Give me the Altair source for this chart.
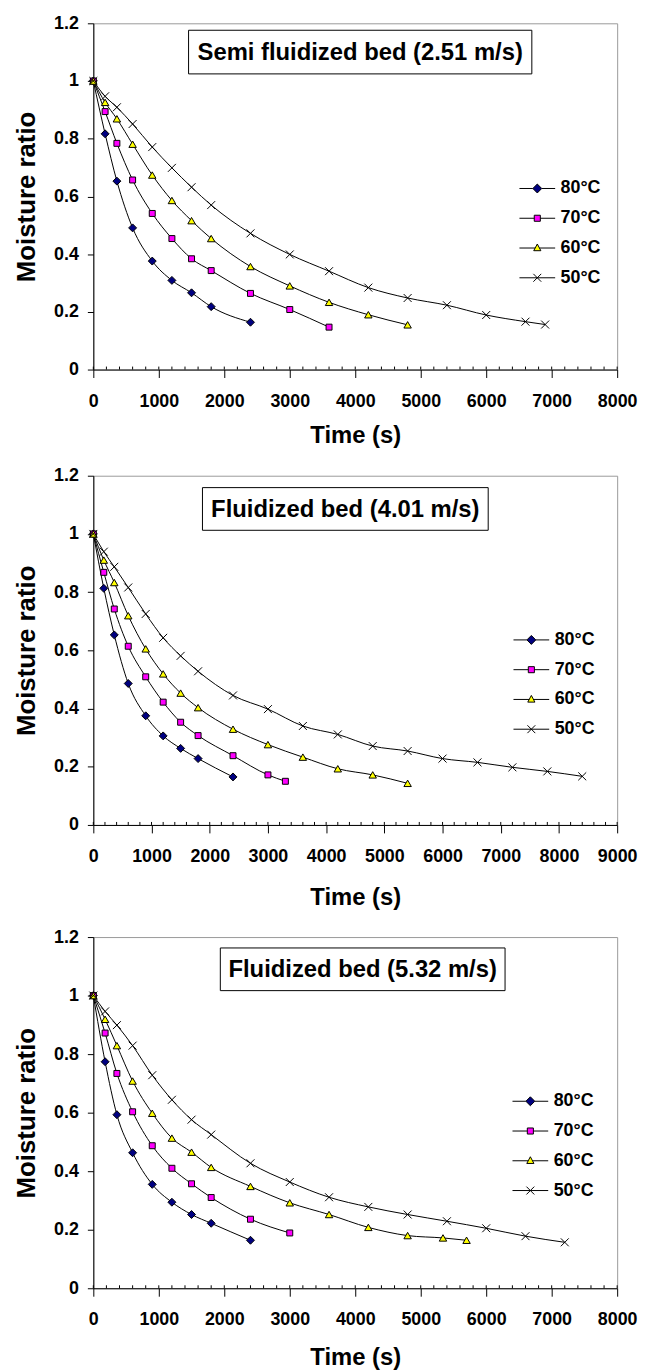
import altair as alt
import pandas as pd

# ---------------- data ----------------
TEMPS = ["80°C", "70°C", "60°C", "50°C"]
FILL_COLORS = ["#000080", "#FF00FF", "#FFFF00", "#000000"]
STROKE_COLORS = ["#000000", "#000000", "#000000", "#000000"]
Y_TICKS = [0, 0.2, 0.4, 0.6, 0.8, 1, 1.2]

# Panel 1: Semi fluidized bed (2.51 m/s)
P1_TITLE = "Semi fluidized bed (2.51 m/s)"
P1_XMAX = 8000
P1_T80 = [0, 180, 360, 600, 900, 1200, 1500, 1800, 2400]
P1_V80 = [1.0, 0.817, 0.653, 0.491, 0.376, 0.309, 0.266, 0.218, 0.164]
P1_T70 = [0, 180, 360, 600, 900, 1200, 1500, 1800, 2400, 3000, 3600]
P1_V70 = [1.0, 0.894, 0.784, 0.657, 0.541, 0.454, 0.384, 0.343, 0.264, 0.208, 0.147]
P1_T60 = [0, 180, 360, 600, 900, 1200, 1500, 1800, 2400, 3000, 3600, 4200, 4800]
P1_V60 = [1.0, 0.926, 0.869, 0.781, 0.674, 0.586, 0.516, 0.454, 0.357, 0.290, 0.233, 0.190, 0.155]
P1_T50 = [0, 180, 360, 600, 900, 1200, 1500, 1800, 2400, 3000, 3600, 4200, 4800, 5400, 6000, 6600, 6900]
P1_V50 = [1.0, 0.947, 0.909, 0.851, 0.771, 0.699, 0.632, 0.570, 0.472, 0.399, 0.341, 0.284, 0.248, 0.223, 0.189, 0.166, 0.156]

# Panel 2: Fluidized bed (4.01 m/s)
P2_TITLE = "Fluidized bed (4.01 m/s)"
P2_XMAX = 9000
P2_T80 = [0, 180, 360, 600, 900, 1200, 1500, 1800, 2400]
P2_V80 = [1.0, 0.813, 0.653, 0.486, 0.375, 0.306, 0.263, 0.228, 0.165]
P2_T70 = [0, 180, 360, 600, 900, 1200, 1500, 1800, 2400, 3000, 3300]
P2_V70 = [1.0, 0.868, 0.742, 0.614, 0.509, 0.422, 0.353, 0.307, 0.238, 0.172, 0.150]
P2_T60 = [0, 180, 360, 600, 900, 1200, 1500, 1800, 2400, 3000, 3600, 4200, 4800, 5400]
P2_V60 = [1.0, 0.910, 0.833, 0.719, 0.605, 0.519, 0.453, 0.403, 0.329, 0.276, 0.233, 0.193, 0.172, 0.143]
P2_T50 = [0, 180, 360, 600, 900, 1200, 1500, 1800, 2400, 3000, 3600, 4200, 4800, 5400, 6000, 6600, 7200, 7800, 8400]
P2_V50 = [1.0, 0.939, 0.887, 0.816, 0.725, 0.643, 0.581, 0.528, 0.445, 0.398, 0.340, 0.311, 0.271, 0.254, 0.228, 0.215, 0.198, 0.184, 0.167]

# Panel 3: Fluidized bed (5.32 m/s)
P3_TITLE = "Fluidized bed (5.32 m/s)"
P3_XMAX = 8000
P3_T80 = [0, 180, 360, 600, 900, 1200, 1500, 1800, 2400]
P3_V80 = [1.0, 0.774, 0.593, 0.463, 0.355, 0.294, 0.252, 0.222, 0.164]
P3_T70 = [0, 180, 360, 600, 900, 1200, 1500, 1800, 2400, 3000]
P3_V70 = [1.0, 0.872, 0.734, 0.603, 0.487, 0.410, 0.357, 0.310, 0.236, 0.189]
P3_T60 = [0, 180, 360, 600, 900, 1200, 1500, 1800, 2400, 3000, 3600, 4200, 4800, 5340, 5700]
P3_V60 = [1.0, 0.919, 0.829, 0.708, 0.598, 0.513, 0.465, 0.413, 0.348, 0.292, 0.252, 0.208, 0.180, 0.172, 0.164]
P3_T50 = [0, 180, 360, 600, 900, 1200, 1500, 1800, 2400, 3000, 3600, 4200, 4800, 5400, 6000, 6600, 7200]
P3_V50 = [1.0, 0.946, 0.899, 0.829, 0.728, 0.644, 0.576, 0.525, 0.427, 0.363, 0.311, 0.278, 0.252, 0.229, 0.205, 0.178, 0.157]

# ---------------- style ----------------
FONT = "Liberation Sans"
WIDTH = 528
CROSS = "M-1,-1L1,1M-1,1L1,-1"
MARKER_SHAPES = ["diamond", "square", "triangle-up", CROSS]
MARKER_SIZES = [64, 36, 56, 64]
LEGEND_SHAPES = [
    "M-2,0H-0.5M0.5,0H2M0,-0.5L0.5,0L0,0.5L-0.5,0Z",
    "M-2,0H-0.34M0.34,0H2M-0.34,-0.34H0.34V0.34H-0.34Z",
    "M-2,0H-0.24M0.24,0H2M0,-0.45L0.4,0.3H-0.4Z",
    "M-2,0H2M-0.44,-0.44L0.44,0.44M-0.44,0.44L0.44,-0.44",
]

PANELS = [
    dict(title=P1_TITLE, xmax=P1_XMAX, height=349,
         times=[P1_T80, P1_T70, P1_T60, P1_T50], values=[P1_V80, P1_V70, P1_V60, P1_V50],
         box=(96, 442, 7, 51), legend=(438, 157), xtitlepad=14),
    dict(title=P2_TITLE, xmax=P2_XMAX, height=352,
         times=[P2_T80, P2_T70, P2_T60, P2_T50], values=[P2_V80, P2_V70, P2_V60, P2_V50],
         box=(110, 398, 12, 55), legend=(432, 156), xtitlepad=20),
    dict(title=P3_TITLE, xmax=P3_XMAX, height=354,
         times=[P3_T80, P3_T70, P3_T60, P3_T50], values=[P3_V80, P3_V70, P3_V60, P3_V50],
         box=(128, 415, 11, 54), legend=(431, 156), xtitlepad=17),
]


def make_panel(p):
    rows = []
    for temp, ts, vs in zip(TEMPS, p["times"], p["values"]):
        for t, v in zip(ts, vs):
            rows.append({"Temp": temp, "t": t, "mr": v})
    df = pd.DataFrame(rows)
    H = p["height"]

    xscale = alt.Scale(domain=[0, p["xmax"]], nice=False)
    yscale = alt.Scale(domain=[0, 1.2], nice=False)
    xaxis = alt.Axis(values=list(range(0, p["xmax"] + 1, 1000)), format="d",
                     title="Time (s)", tickSize=8, labelPadding=15,
                     titlePadding=p["xtitlepad"], grid=False, labelFlush=False,
                     labelOverlap=False)
    yaxis = alt.Axis(values=Y_TICKS, format="~g", title="Moisture ratio",
                     titleFontSize=26, tickSize=6, labelPadding=9, titlePadding=14,
                     grid=False)

    base = alt.Chart(df)
    x = alt.X("t:Q", scale=xscale, axis=xaxis)
    y = alt.Y("mr:Q", scale=yscale, axis=yaxis)

    lines = base.mark_line(color="black", strokeWidth=1, interpolate="monotone").encode(
        x=x, y=y, detail="Temp:N")

    pts = []
    for temp, col, shp, sz in zip(TEMPS, FILL_COLORS, MARKER_SHAPES, MARKER_SIZES):
        pts.append(
            base.transform_filter(alt.datum.Temp == temp)
            .mark_point(shape=shp, filled=True, fill=col, stroke="black",
                        strokeWidth=1, size=sz, opacity=1)
            .encode(x="t:Q", y="mr:Q")
        )

    lx, ly = p["legend"]
    leg_spec = alt.Legend(orient="none", legendX=lx, legendY=ly, title=None,
                          symbolSize=324, symbolStrokeWidth=1, symbolOpacity=1,
                          labelFont=FONT, labelFontSize=18, labelFontWeight="bold",
                          labelColor="black", labelOffset=14, rowPadding=11,
                          padding=0)
    leg = (base.transform_filter("false")
           .mark_point(filled=True, strokeWidth=1, opacity=1)
           .encode(x="t:Q", y="mr:Q",
                   shape=alt.Shape("Temp:N", scale=alt.Scale(domain=TEMPS, range=LEGEND_SHAPES),
                                   legend=leg_spec),
                   fill=alt.Fill("Temp:N", scale=alt.Scale(domain=TEMPS, range=FILL_COLORS),
                                 legend=leg_spec),
                   stroke=alt.Stroke("Temp:N", scale=alt.Scale(domain=TEMPS, range=STROKE_COLORS),
                                     legend=leg_spec)))

    minor_df = pd.DataFrame({"t": list(range(0, p["xmax"] + 1, 200))})
    minor = alt.Chart(minor_df).mark_rule(color="black", strokeWidth=1).encode(
        x="t:Q", y=alt.value(H), y2=alt.value(H - 3))

    bx1, bx2, by1, by2 = p["box"]
    box_df = pd.DataFrame({"label": [p["title"]]})
    box = alt.Chart(box_df).mark_rect(fill="white", stroke="black", strokeWidth=1).encode(
        x=alt.value(bx1), x2=alt.value(bx2), y=alt.value(by1), y2=alt.value(by2))
    txt = alt.Chart(box_df).mark_text(font=FONT, fontSize=24, fontWeight="bold",
                                      color="black", align="center", baseline="middle").encode(
        x=alt.value((bx1 + bx2) / 2), y=alt.value((by1 + by2) / 2 + 1), text="label:N")

    return alt.layer(lines, *pts, leg, minor, box, txt).properties(width=WIDTH, height=H)


chart = (
    alt.vconcat(*[make_panel(p) for p in PANELS], spacing=17)
    .resolve_scale(shape="independent", fill="independent", stroke="independent", x="independent")
    .resolve_legend(shape="independent", fill="independent", stroke="independent")
    .properties(padding={"left": 5, "top": 0, "right": 0, "bottom": 0})
    .configure_view(stroke="#9a9a9a", strokeWidth=1)
    .configure_axis(labelFont=FONT, labelFontSize=18, labelFontWeight="bold",
                    labelColor="black", titleFont=FONT, titleFontSize=24,
                    titleFontWeight="bold", titleColor="black", domainColor="black",
                    tickColor="black", domainWidth=1, tickWidth=1)
)

chart.save("out.html", embed_options={"renderer": "svg", "actions": False})
